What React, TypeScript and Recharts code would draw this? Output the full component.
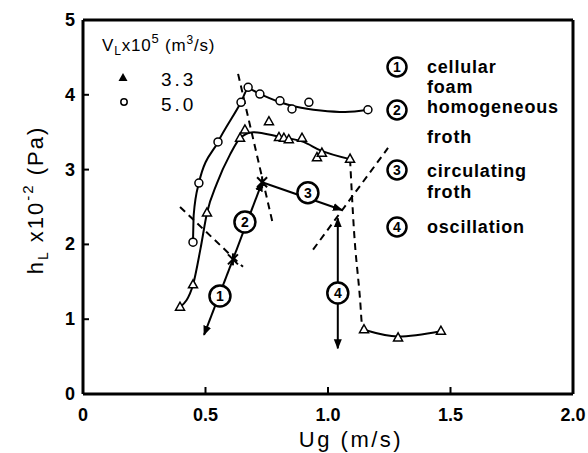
import { ComposedChart, Line, Scatter, XAxis, YAxis } from "recharts";

// axis ticks
const xTicks = [0, 0.5, 1.0, 1.5, 2.0];
const yTicks = [0, 1, 2, 3, 4, 5];

// measured points, V_L = 5.0e-5 m3/s (open circles)
const circlePts = [
  { x: 0.449, y: 2.03 }, { x: 0.473, y: 2.82 }, { x: 0.551, y: 3.37 },
  { x: 0.645, y: 3.90 }, { x: 0.674, y: 4.10 }, { x: 0.722, y: 4.01 },
  { x: 0.804, y: 3.92 }, { x: 0.853, y: 3.81 }, { x: 0.922, y: 3.90 },
  { x: 1.163, y: 3.80 },
];
// smooth curve drawn through the circles
const circleFit = [
  { x: 0.449, y: 2.03 }, { x: 0.452, y: 2.4 }, { x: 0.473, y: 2.82 },
  { x: 0.551, y: 3.37 }, { x: 0.645, y: 3.90 }, { x: 0.674, y: 4.08 },
  { x: 0.722, y: 4.01 }, { x: 0.804, y: 3.90 }, { x: 0.87, y: 3.84 },
  { x: 0.97, y: 3.79 }, { x: 1.07, y: 3.77 }, { x: 1.163, y: 3.80 },
];

// measured points, V_L = 3.3e-5 m3/s (triangles)
const trianglePts = [
  { x: 0.396, y: 1.16 }, { x: 0.449, y: 1.46 }, { x: 0.506, y: 2.42 },
  { x: 0.641, y: 3.42 }, { x: 0.661, y: 3.53 }, { x: 0.759, y: 3.64 },
  { x: 0.80, y: 3.43 }, { x: 0.82, y: 3.42 }, { x: 0.84, y: 3.40 },
  { x: 0.894, y: 3.42 }, { x: 0.955, y: 3.16 }, { x: 0.975, y: 3.22 },
  { x: 1.09, y: 3.14 }, { x: 1.147, y: 0.86 }, { x: 1.286, y: 0.75 },
  { x: 1.461, y: 0.84 },
];
const triangleFit = [
  { x: 0.396, y: 1.16 }, { x: 0.449, y: 1.46 }, { x: 0.48, y: 1.95 },
  { x: 0.506, y: 2.42 }, { x: 0.547, y: 2.82 }, { x: 0.60, y: 3.20 },
  { x: 0.641, y: 3.42 }, { x: 0.694, y: 3.50 }, { x: 0.80, y: 3.44 },
  { x: 0.90, y: 3.37 }, { x: 0.967, y: 3.26 }, { x: 1.09, y: 3.14 },
];
const triangleLowFit = [
  { x: 1.147, y: 0.86 }, { x: 1.286, y: 0.77 }, { x: 1.461, y: 0.84 },
];
// dashed drop from the last high point to the low branch
const dropDash = [
  { x: 1.09, y: 3.14 }, { x: 1.106, y: 2.19 }, { x: 1.131, y: 1.26 },
  { x: 1.139, y: 0.92 }, { x: 1.147, y: 0.86 },
];

// regime boundaries (dashed)
const boundaryA = [{ x: 0.633, y: 4.28 }, { x: 0.776, y: 2.26 }];
const boundaryB = [{ x: 0.396, y: 2.50 }, { x: 0.653, y: 1.70 }];
const boundaryC = [{ x: 0.939, y: 1.93 }, { x: 1.245, y: 3.29 }];

// regime path with arrows
const path1 = [{ x: 0.612, y: 1.80 }, { x: 0.494, y: 0.79 }];
const path2 = [{ x: 0.612, y: 1.80 }, { x: 0.731, y: 2.83 }];
const path3 = [{ x: 0.731, y: 2.83 }, { x: 1.057, y: 2.46 }];
const path4 = [{ x: 1.04, y: 0.61 }, { x: 1.04, y: 2.35 }];
const stars = [{ x: 0.612, y: 1.80 }, { x: 0.731, y: 2.83 }];
const regimeMarks = [
  { x: 0.559, y: 1.31, label: "1" },
  { x: 0.661, y: 2.30, label: "2" },
  { x: 0.918, y: 2.69, label: "3" },
  { x: 1.04, y: 1.35, label: "4" },
];

// legend entries
const regimeNames = [
  { n: "1", lines: ["cellular", "foam"] },
  { n: "2", lines: ["homogeneous", "froth"] },
  { n: "3", lines: ["circulating", "froth"] },
  { n: "4", lines: ["oscillation"] },
];

const FONT = "'Liberation Sans', Arial, sans-serif";

const Circle = (p: any) => (
  <circle cx={p.cx} cy={p.cy} r={4} fill="#fff" stroke="#000" strokeWidth={1.5} />
);
const Tri = (p: any) => (
  <polygon
    points={`${p.cx},${p.cy - 5} ${p.cx - 4.5},${p.cy + 3} ${p.cx + 4.5},${p.cy + 3}`}
    fill="#fff"
    stroke="#000"
    strokeWidth={1.5}
  />
);
const Star = (p: any) => (
  <g stroke="#000" strokeWidth={2}>
    <line x1={p.cx - 5} y1={p.cy - 5} x2={p.cx + 5} y2={p.cy + 5} />
    <line x1={p.cx - 5} y1={p.cy + 5} x2={p.cx + 5} y2={p.cy - 5} />
    <line x1={p.cx} y1={p.cy - 6} x2={p.cx} y2={p.cy + 6} />
  </g>
);
const Ring = (p: any) => (
  <g>
    <circle cx={p.cx} cy={p.cy} r={10.5} fill="#fff" stroke="#000" strokeWidth={2.5} />
    <text x={p.cx} y={p.cy + 5} textAnchor="middle" fontFamily={FONT} fontSize={14} fontWeight="bold">
      {p.payload.label}
    </text>
  </g>
);

const BottomTick = (p: any) => {
  const v = p.payload.value;
  return (
    <g>
      {v > 0 && v < 2 && <line x1={p.x} y1={p.y} x2={p.x} y2={p.y - 7} stroke="#000" strokeWidth={2} />}
      <text x={p.x} y={p.y + 27} textAnchor="middle" fontFamily={FONT} fontWeight="bold" fontSize={18}>
        {v === 0 ? "0" : v.toFixed(1)}
      </text>
    </g>
  );
};
const TopTick = (p: any) => {
  const v = p.payload.value;
  if (v <= 0 || v >= 2) return <g />;
  return <line x1={p.x} y1={p.y} x2={p.x} y2={p.y + 7} stroke="#000" strokeWidth={2} />;
};
const RightTick = (p: any) => {
  const v = p.payload.value;
  if (v <= 0 || v >= 5) return <g />;
  return <line x1={p.x} y1={p.y} x2={p.x - 7} y2={p.y} stroke="#000" strokeWidth={2} />;
};
const LeftTick = (p: any) => (
  <g>
    <line x1={p.x + 6} y1={p.y} x2={p.x + 1} y2={p.y} stroke="#000" strokeWidth={2} />
    <text x={p.x - 8} y={p.y + 6} textAnchor="end" fontFamily={FONT} fontWeight="bold" fontSize={18}>
      {p.payload.value}
    </text>
  </g>
);

export default function App() {
  return (
    <div style={{ position: "absolute", left: 0, top: 0, width: 588, height: 453, background: "#fff" }}>
      <ComposedChart width={588} height={453} margin={{ top: 0, right: 0, bottom: 0, left: 23 }}>
        <defs>
          <marker
            id="arrowHead"
            viewBox="0 0 10 10"
            refX="9"
            refY="5"
            markerWidth="10"
            markerHeight="10"
            markerUnits="userSpaceOnUse"
            orient="auto-start-reverse"
          >
            <path d="M0,1 L10,5 L0,9 z" fill="#000" />
          </marker>
        </defs>
        <XAxis
          dataKey="x"
          type="number"
          domain={[0, 2]}
          ticks={xTicks}
          height={59}
          tickSize={0}
          tickMargin={0}
          tickLine={false}
          axisLine={{ stroke: "#000", strokeWidth: 3 }}
          tick={<BottomTick />}
          allowDataOverflow
        />
        <XAxis
          xAxisId="top"
          orientation="top"
          type="number"
          domain={[0, 2]}
          ticks={xTicks}
          height={20}
          tickSize={0}
          tickMargin={0}
          tickLine={false}
          axisLine={{ stroke: "#000", strokeWidth: 3 }}
          tick={<TopTick />}
        />
        <YAxis
          dataKey="y"
          type="number"
          domain={[0, 5]}
          ticks={yTicks}
          width={60}
          tickSize={0}
          tickMargin={0}
          tickLine={false}
          axisLine={{ stroke: "#000", strokeWidth: 3 }}
          tick={<LeftTick />}
          allowDataOverflow
        />
        <YAxis
          yAxisId="right"
          orientation="right"
          type="number"
          domain={[0, 5]}
          ticks={yTicks}
          width={15}
          tickSize={0}
          tickMargin={0}
          tickLine={false}
          axisLine={{ stroke: "#000", strokeWidth: 3 }}
          tick={<RightTick />}
        />

        <Line data={circleFit} dataKey="y" type="monotone" stroke="#000" strokeWidth={2} dot={false} isAnimationActive={false} />
        <Line data={triangleFit} dataKey="y" type="monotone" stroke="#000" strokeWidth={2} dot={false} isAnimationActive={false} />
        <Line data={triangleLowFit} dataKey="y" type="monotone" stroke="#000" strokeWidth={2} dot={false} isAnimationActive={false} />
        <Line data={dropDash} dataKey="y" type="monotone" stroke="#000" strokeWidth={2} strokeDasharray="7 5" dot={false} isAnimationActive={false} />
        <Line data={boundaryA} dataKey="y" type="linear" stroke="#000" strokeWidth={2} strokeDasharray="7 5" dot={false} isAnimationActive={false} />
        <Line data={boundaryB} dataKey="y" type="linear" stroke="#000" strokeWidth={2} strokeDasharray="7 5" dot={false} isAnimationActive={false} />
        <Line data={boundaryC} dataKey="y" type="linear" stroke="#000" strokeWidth={2} strokeDasharray="7 5" dot={false} isAnimationActive={false} />

        <Line data={path1} dataKey="y" type="linear" stroke="#000" strokeWidth={2} dot={false} markerEnd="url(#arrowHead)" isAnimationActive={false} />
        <Line data={path2} dataKey="y" type="linear" stroke="#000" strokeWidth={2} dot={false} markerEnd="url(#arrowHead)" isAnimationActive={false} />
        <Line data={path3} dataKey="y" type="linear" stroke="#000" strokeWidth={2} dot={false} markerEnd="url(#arrowHead)" isAnimationActive={false} />
        <Line data={path4} dataKey="y" type="linear" stroke="#000" strokeWidth={2} dot={false} markerStart="url(#arrowHead)" markerEnd="url(#arrowHead)" isAnimationActive={false} />

        <Scatter data={circlePts} dataKey="y" shape={<Circle />} isAnimationActive={false} />
        <Scatter data={trianglePts} dataKey="y" shape={<Tri />} isAnimationActive={false} />
        <Scatter data={stars} dataKey="y" shape={<Star />} isAnimationActive={false} />
        <Scatter data={regimeMarks} dataKey="y" shape={<Ring />} isAnimationActive={false} />
      </ComposedChart>

      <svg
        width={588}
        height={453}
        style={{ position: "absolute", left: 0, top: 0, pointerEvents: "none" }}
        fontFamily={FONT}
      >
        {/* y axis title */}
        <text transform="translate(43,200) rotate(-90)" textAnchor="middle" fontSize={22} letterSpacing={2}>
          <tspan>h</tspan>
          <tspan fontSize={14} dy={5}>L</tspan>
          <tspan dy={-5}> x10</tspan>
          <tspan fontSize={15} dy={-10}>-2</tspan>
          <tspan dy={10}> (Pa)</tspan>
        </text>
        {/* x axis title */}
        <text x={351} y={447} textAnchor="middle" fontSize={22} letterSpacing={2.5}>Ug (m/s)</text>

        {/* flow rate legend */}
        <text x={102} y={51} fontSize={17} letterSpacing={0.8}>
          <tspan>V</tspan>
          <tspan fontSize={12} dy={4}>L</tspan>
          <tspan dy={-4}>x10</tspan>
          <tspan fontSize={13} dy={-8}>5</tspan>
          <tspan dy={8}> (m</tspan>
          <tspan fontSize={12} dy={-7}>3</tspan>
          <tspan dy={7}>/s)</tspan>
        </text>
        <polygon points="123,73 118.5,81 127.5,81" fill="#000" />
        <text x={161} y={86} fontSize={19} letterSpacing={3}>3.3</text>
        <circle cx={124} cy={102} r={3.2} fill="#fff" stroke="#000" strokeWidth={1.5} />
        <text x={161} y={111} fontSize={19} letterSpacing={3}>5.0</text>

        {/* regime legend */}
        {regimeNames.map((r, i) => {
          const cy = [67, 110, 170, 227][i];
          const base = [73, 113, 177, 233][i];
          const step = [20, 30, 21, 0][i];
          return (
            <g key={r.n}>
              <circle cx={397} cy={cy} r={9.5} fill="#fff" stroke="#000" strokeWidth={2.5} />
              <text x={397} y={cy + 5} textAnchor="middle" fontSize={14} fontWeight="bold">{r.n}</text>
              {r.lines.map((t, j) => (
                <text key={t} x={427} y={base + j * step} fontSize={18} fontWeight="bold" letterSpacing={0.8}>
                  {t}
                </text>
              ))}
            </g>
          );
        })}
      </svg>
    </div>
  );
}
